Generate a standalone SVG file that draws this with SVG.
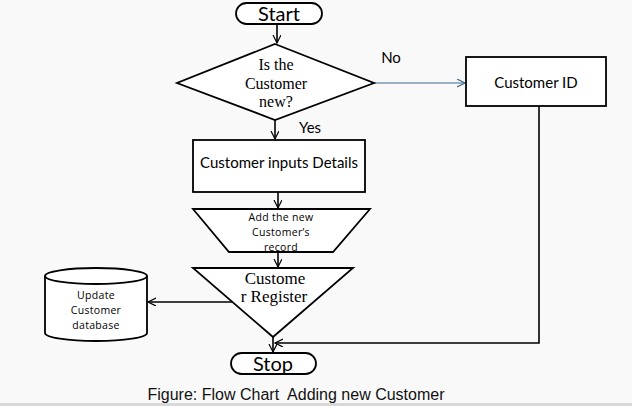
<svg xmlns="http://www.w3.org/2000/svg" width="632" height="406" viewBox="0 0 632 406">
<defs>
<marker id="arr" markerWidth="10" markerHeight="10" refX="8" refY="4" orient="auto" markerUnits="userSpaceOnUse">
<path d="M0,0 L8,4 L0,8" fill="none" stroke="#000" stroke-width="1.2"/>
</marker>
<marker id="arrb" markerWidth="10" markerHeight="10" refX="8" refY="4" orient="auto" markerUnits="userSpaceOnUse">
<path d="M0,0 L8,4 L0,8" fill="none" stroke="#3a6a8e" stroke-width="1.2"/>
</marker>
</defs>
<style>
.s{fill:#fff;stroke:#000;stroke-width:1.8}
.c{fill:none;stroke:#000;stroke-width:1.6}
.sans{font-family:Lato,"Open Sans","Liberation Sans",sans-serif;fill:#000;text-anchor:middle}
.sm{font-family:"Open Sans",Lato,"Liberation Sans",sans-serif;fill:#000;text-anchor:middle;font-size:10.5px;letter-spacing:0.3px}
.serif{font-family:"Liberation Serif","DejaVu Serif",serif;fill:#000;text-anchor:middle}
</style>
<rect x="0" y="0" width="632" height="406" fill="#f9f9f9"/>
<rect x="0" y="403" width="632" height="3" fill="#d8d8d8"/>
<g id="connectors">
<line class="c" x1="277" y1="25" x2="277" y2="43" marker-end="url(#arr)"/>
<line x1="374" y1="83" x2="465" y2="83" stroke="#3a6a8e" stroke-width="1.2" marker-end="url(#arrb)"/>
<line class="c" x1="275" y1="120" x2="275" y2="139" marker-end="url(#arr)"/>
<line class="c" x1="278" y1="192" x2="278" y2="208" marker-end="url(#arr)"/>
<line class="c" x1="278" y1="253" x2="278" y2="267" marker-end="url(#arr)"/>
<line class="c" x1="232" y1="302" x2="148" y2="302" marker-end="url(#arr)"/>
<line class="c" x1="273" y1="337" x2="273" y2="352" marker-end="url(#arr)"/>
<polyline class="c" points="539,106 539,343 275,343" marker-end="url(#arr)"/>
<text x="391" y="63" class="sans" font-size="15">No</text>
<text x="310" y="133" class="sans" font-size="15">Yes</text>
</g>
<g id="start">
<rect class="s" x="236" y="3" width="86" height="21" rx="10.5"/>
<text x="279" y="21" class="sans" font-size="20">Start</text>
</g>
<g id="decision">
<polygon class="s" points="275,44 374,83 275,120 177,83"/>
<text x="276" y="70" class="serif" font-size="16">Is the</text>
<text x="276" y="89" class="serif" font-size="16">Customer</text>
<text x="276" y="107" class="serif" font-size="16">new?</text>
</g>
<g id="customer-id">
<rect class="s" x="466" y="57" width="140" height="49"/>
<text x="536" y="88" class="sans" font-size="15">Customer ID</text>
</g>
<g id="inputs">
<rect class="s" x="193" y="140" width="172" height="52"/>
<text x="279" y="168" class="sans" font-size="15">Customer inputs Details</text>
</g>
<g id="add-record">
<polygon class="s" points="193,209 370,209 333,252 229,252"/>
<text x="281" y="221" class="sm">Add the new</text>
<text x="281" y="236" class="sm">Customer’s</text>
<text x="281" y="251" class="sm">record</text>
</g>
<g id="register">
<polygon class="s" points="193,268 353,268 273,337"/>
<text x="275" y="284" class="serif" font-size="17">Custome</text>
<text x="274" y="302" class="serif" font-size="17">r Register</text>
</g>
<g id="database">
<path class="s" d="M45,276 L45,333 A51,8 0 0 0 147,333 L147,276"/>
<ellipse class="s" cx="96" cy="276" rx="51" ry="8"/>
<text x="96" y="299" class="sm">Update</text>
<text x="96" y="314" class="sm">Customer</text>
<text x="96" y="329" class="sm">database</text>
</g>
<g id="stop">
<rect class="s" x="231" y="353" width="85" height="21" rx="10.5"/>
<text x="273" y="371" class="sans" font-size="20">Stop</text>
</g>
<text x="296" y="400" font-family="Liberation Sans,Arial,sans-serif" font-size="16" text-anchor="middle" fill="#111" xml:space="preserve" style="white-space:pre">Figure: Flow Chart  Adding new Customer</text>
</svg>
